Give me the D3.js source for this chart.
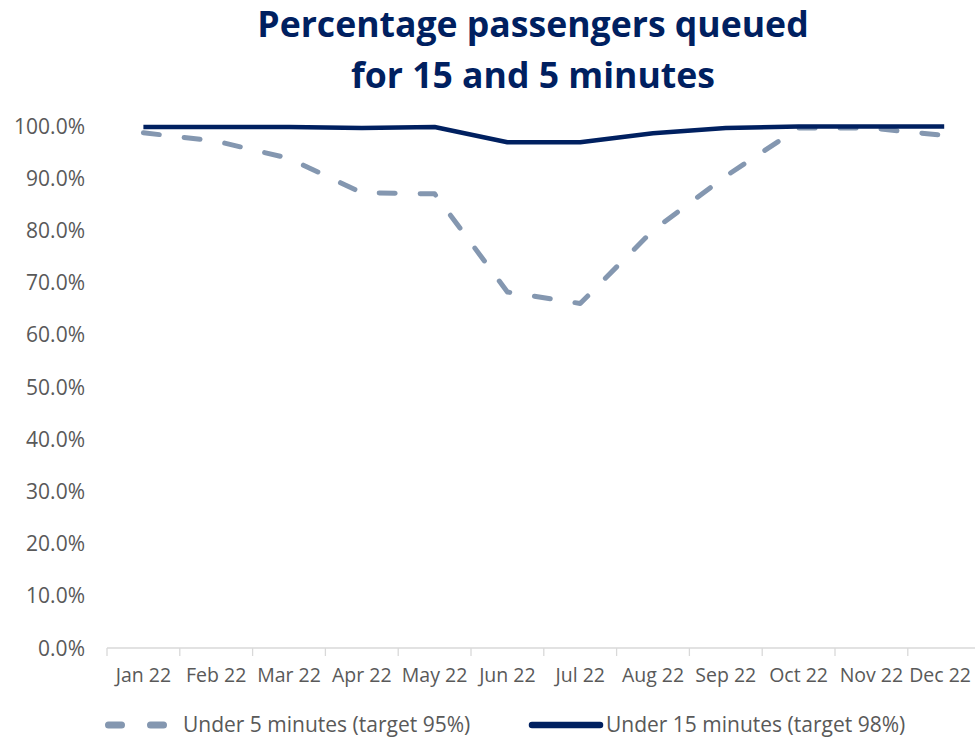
<!DOCTYPE html>
<html>
<head>
<meta charset="utf-8">
<script src="https://cdn.jsdelivr.net/npm/d3@7"></script>
<style>
  html, body { margin: 0; padding: 0; background: #fff; }
  svg { display: block; }
</style>
</head>
<body>
<svg id="chart" width="975" height="737"></svg>
<script>
// Monthly queue performance, 2022
const months = ["Jan 22","Feb 22","Mar 22","Apr 22","May 22","Jun 22","Jul 22","Aug 22","Sep 22","Oct 22","Nov 22","Dec 22"];
const under5 = [98.7, 97.1, 93.8, 87.2, 87.0, 68.2, 66.0, 80.0, 90.4, 99.6, 99.6, 98.2];
const under15 = [99.8, 99.8, 99.8, 99.6, 99.8, 96.9, 96.9, 98.6, 99.6, 99.9, 99.9, 99.9];
const yTicks = [0, 10, 20, 30, 40, 50, 60, 70, 80, 90, 100];
const titleLines = ["Percentage passengers queued", "for 15 and 5 minutes"];
const seriesNames = ["Under 5 minutes (target 95%)", "Under 15 minutes (target 98%)"];

const navy = "#002060";
const slate = "#8497B0";
const textGrey = "#595959";
const font = "'Open Sans', sans-serif";
const W = 975;

const svg = d3.select("#chart");

const x = d3.scaleBand().domain(months).range([107, 980.6]);
const y = d3.scaleLinear().domain([0, 100]).range([648, 126]);

// Title
svg.append("g").selectAll("text").data(titleLines).join("text")
  .attr("x", 533).attr("y", (d, i) => 37 + i * 51)
  .attr("text-anchor", "middle")
  .attr("font-family", font).attr("font-weight", 700)
  .attr("font-size", 35.6).attr("fill", navy)
  .text(d => d);

// Y axis labels (no axis line, no gridlines)
svg.append("g").selectAll("text").data(yTicks).join("text")
  .attr("x", 85).attr("y", d => y(d)).attr("dy", "0.36em")
  .attr("text-anchor", "end")
  .attr("font-family", font).attr("font-size", 21).attr("fill", textGrey)
  .text(d => d.toFixed(1) + "%");

// X axis: baseline with tick marks at category boundaries
const xAxis = svg.append("g").attr("transform", "translate(0,648)");
xAxis.append("line")
  .attr("x1", x.range()[0]).attr("x2", x.range()[1])
  .attr("stroke", "#d9d9d9").attr("stroke-width", 1.3);
xAxis.selectAll("line.tick").data(months).join("line")
  .attr("class", "tick")
  .attr("x1", d => x(d)).attr("x2", d => x(d))
  .attr("y1", 0).attr("y2", 8)
  .attr("stroke", "#d9d9d9").attr("stroke-width", 1.3);
xAxis.selectAll("text").data(months).join("text")
  .attr("x", d => x(d) + x.bandwidth() / 2).attr("y", 34)
  .attr("text-anchor", "middle")
  .attr("font-family", font).attr("font-size", 19.5).attr("fill", textGrey)
  .text(d => d)
  // keep the last label inside the canvas
  .each(function(d) {
    const w = this.getComputedTextLength();
    const cx = x(d) + x.bandwidth() / 2;
    if (cx + w / 2 > W - 4) d3.select(this).attr("x", W - 4 - w / 2);
  });

const line = d3.line()
  .x((d, i) => x(months[i]) + x.bandwidth() / 2)
  .y(d => y(d));

// Under 5 minutes – dashed
svg.append("path").datum(under5)
  .attr("d", line)
  .attr("fill", "none").attr("stroke", slate)
  .attr("stroke-width", 5).attr("stroke-linecap", "round").attr("stroke-linejoin", "round")
  .attr("stroke-dasharray", "16,25");

// Under 15 minutes – solid
svg.append("path").datum(under15)
  .attr("d", line)
  .attr("fill", "none").attr("stroke", navy)
  .attr("stroke-width", 4.5).attr("stroke-linejoin", "round");

// Legend
const legend = svg.append("g").attr("transform", "translate(0,725)");
legend.append("line")
  .attr("x1", 108.5).attr("x2", 165).attr("y1", 0).attr("y2", 0)
  .attr("stroke", slate).attr("stroke-width", 7).attr("stroke-linecap", "round")
  .attr("stroke-dasharray", "13,29");
legend.append("text").attr("x", 183).attr("y", 7)
  .attr("font-family", font).attr("font-size", 21).attr("fill", textGrey)
  .text(seriesNames[0]);
legend.append("line")
  .attr("x1", 532).attr("x2", 600).attr("y1", 0).attr("y2", 0)
  .attr("stroke", navy).attr("stroke-width", 6.5).attr("stroke-linecap", "round");
legend.append("text").attr("x", 606).attr("y", 7)
  .attr("font-family", font).attr("font-size", 21).attr("fill", textGrey)
  .text(seriesNames[1]);
</script>
</body>
</html>
